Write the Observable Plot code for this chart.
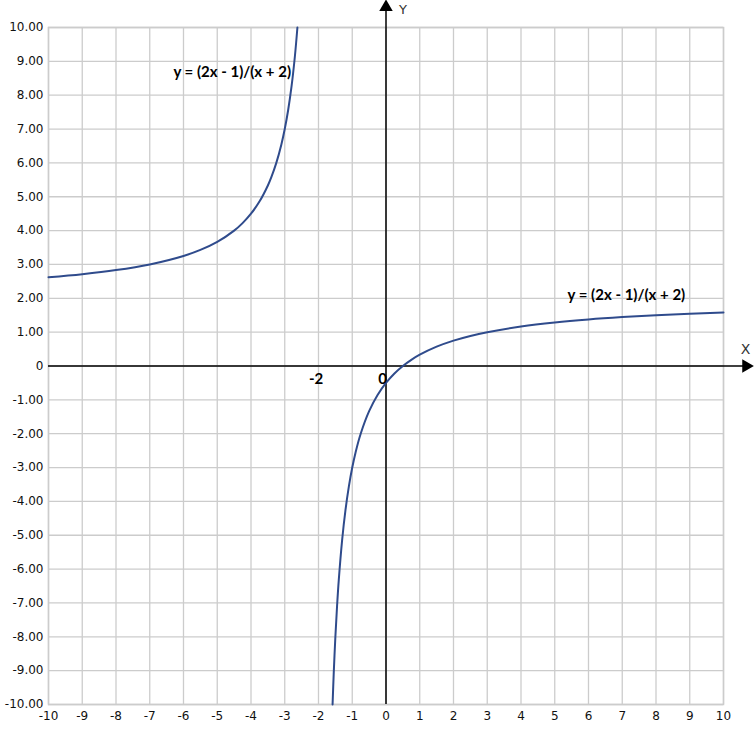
<!DOCTYPE html>
<html>
<head>
<meta charset="utf-8">
<script src="https://cdn.jsdelivr.net/npm/d3@7"></script>
<script src="https://cdn.jsdelivr.net/npm/@observablehq/plot@0.6"></script>
<style>
  body { margin: 0; background: #fff; }
</style>
</head>
<body>
<div id="plot-region"></div>
<script>
// left branch of y = (2x - 1)/(x + 2)
const leftX = [-10, -9, -8, -7, -6, -5.5, -5, -4.5, -4.25, -4, -3.75, -3.5, -3.4, -3.25, -3.1, -3, -2.9, -2.8, -2.7, -2.625];
const leftY = [2.625, 2.714, 2.833, 3, 3.25, 3.429, 3.667, 4, 4.222, 4.5, 4.857, 5.333, 5.571, 6, 6.545, 7, 7.556, 8.25, 9.143, 10];

// right branch
const rightX = [-1.583, -1.55, -1.5, -1.45, -1.4, -1.3, -1.2, -1.1, -1, -0.9, -0.75, -0.5, -0.25, 0, 0.25, 0.5, 0.75, 1, 1.5, 2, 2.5, 3, 4, 5, 6, 7, 8, 9, 10];
const rightY = [-10, -9.111, -8, -7.091, -6.333, -5.143, -4.25, -3.556, -3, -2.545, -2, -1.333, -0.857, -0.5, -0.222, 0, 0.182, 0.333, 0.571, 0.75, 0.889, 1, 1.167, 1.286, 1.375, 1.444, 1.5, 1.545, 1.583];

const xTicks = d3.range(-10, 11);
const yTicks = d3.range(-10, 11);

const CURVE_COLOR = "#2f4b8c";
const GRID_COLOR = "#cccccc";
const LABEL_FONT = "Lato, 'Open Sans', sans-serif";

function toPoints(xs, ys, branch) {
    return xs.map((x, i) => ({ x: x, y: ys[i], branch: branch }));
}

let curve = toPoints(leftX, leftY, "left").concat(toPoints(rightX, rightY, "right"));

// bold annotations on the chart
let notes = [
    { x: -6.3, y: 8.67, text: "y = (2x - 1)/(x + 2)" },
    { x: 5.38, y: 2.08, text: "y = (2x - 1)/(x + 2)" }
];
let axisNumbers = [
    { x: -2.07, y: -0.4, text: "-2" },
    { x: -0.1, y: -0.4, text: "0" }
];

let chart = Plot.plot({
    width: 756,
    height: 752,
    marginLeft: 48,
    marginRight: 33,
    marginTop: 27,
    marginBottom: 48,
    style: { fontFamily: "'DejaVu Sans', Tahoma, sans-serif", fontSize: "12px", color: "#111", background: "#fff" },
    x: { domain: [-10, 10] },
    y: { domain: [-10, 10] },
    marks: [
        Plot.gridX(xTicks, { stroke: GRID_COLOR, strokeOpacity: 1, strokeWidth: 1.3 }),
        Plot.gridY(yTicks, { stroke: GRID_COLOR, strokeOpacity: 1, strokeWidth: 1.3 }),
        Plot.frame({ stroke: GRID_COLOR, strokeWidth: 1.5 }),
        Plot.axisX(xTicks, { tickSize: 0, tickPadding: 7, label: null, tickFormat: d => String(d) }),
        Plot.axisY(yTicks, { tickSize: 0, tickPadding: 5, label: null, tickFormat: d => d === 0 ? "0" : d.toFixed(2) }),
        // axes with arrowheads
        Plot.ruleY([0], { x1: -10, x2: 10.6, stroke: "black", strokeWidth: 1.5 }),
        Plot.ruleX([0], { y1: -10, y2: 10.55, stroke: "black", strokeWidth: 1.5 }),
        Plot.dot([{ x: 10.67, y: 0 }], { x: "x", y: "y", symbol: "triangle", r: 5, fill: "black", rotate: 90 }),
        Plot.dot([{ x: 0, y: 10.6 }], { x: "x", y: "y", symbol: "triangle", r: 5, fill: "black" }),
        Plot.text([{ x: 10.65, y: 0.5, text: "X" }], { x: "x", y: "y", text: "text", fontSize: 14, fill: "#333" }),
        Plot.text([{ x: 0.5, y: 10.68, text: "Y" }], { x: "x", y: "y", text: "text", fontSize: 13, fill: "#333", lineAnchor: "top" }),
        Plot.line(curve, { x: "x", y: "y", z: "branch", stroke: CURVE_COLOR, strokeWidth: 2, curve: "catmull-rom" }),
        Plot.text(notes, { x: "x", y: "y", text: "text", textAnchor: "start", fontSize: 15, fontWeight: "bold", fontFamily: LABEL_FONT, fill: "black" }),
        Plot.text(axisNumbers, { x: "x", y: "y", text: "text", fontSize: 15, fontWeight: "bold", fontFamily: LABEL_FONT, fill: "black" })
    ]
});

let plot = document.getElementById("plot-region");
plot.innerHTML = "";
plot.append(chart);
</script>
</body>
</html>
